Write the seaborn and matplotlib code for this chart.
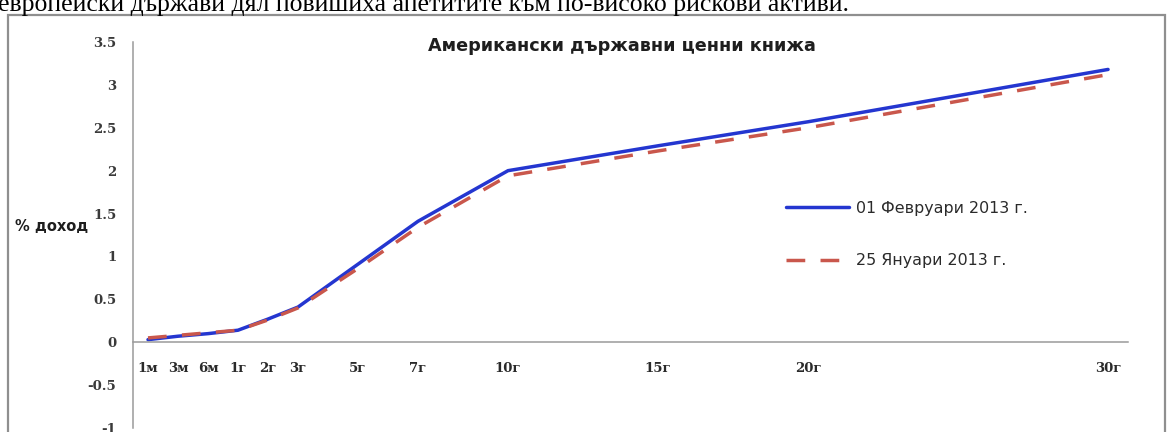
import numpy as np
import pandas as pd
import matplotlib
matplotlib.use("Agg")
import matplotlib.pyplot as plt
import seaborn as sns
from matplotlib.patches import Rectangle
from matplotlib.ticker import MultipleLocator

# Treasury yield curve, % yield by maturity
tenors = ["1м", "3м", "6м", "1г", "2г", "3г", "5г", "7г", "10г", "15г", "20г", "30г"]
tenor_slots = [0, 2, 4, 6, 8, 10, 14, 18, 24, 34, 44, 64]
feb01 = [0.03, 0.07, 0.10, 0.14, 0.27, 0.41, 0.91, 1.41, 2.00, 2.29, 2.57, 3.18]
jan25 = [0.05, 0.08, 0.11, 0.14, 0.26, 0.40, 0.86, 1.34, 1.94, 2.23, 2.50, 3.12]
series_names = ["01 Февруари 2013 г.", "25 Януари 2013 г."]
y_ticks = [-1, -0.5, 0, 0.5, 1, 1.5, 2, 2.5, 3, 3.5]
y_tick_labels = ["-1", "-0.5", "0", "0.5", "1", "1.5", "2", "2.5", "3", "3.5"]

df = pd.DataFrame({
    "slot": tenor_slots * 2,
    "yield": feb01 + jan25,
    "date": [series_names[0]] * len(feb01) + [series_names[1]] * len(jan25),
})

sns.set_style("white")
plt.rcParams["font.family"] = ["DejaVu Sans"]

W, H = 1173, 432
fig = plt.figure(figsize=(W / 100, H / 100), dpi=100)
fig.patch.set_facecolor("white")

# running text of the page above the chart
fig.text(-0.002, 1 - 10.5 / H,
         "европейски държави дял повишиха апетитите към по-високо рискови активи.",
         family="Liberation Serif", fontsize=18.5, color="black",
         ha="left", va="baseline")

# chart frame
fig.patches.append(Rectangle((8 / W, -0.2), (1165 - 8) / W, 1.2 - 15 / H,
                             transform=fig.transFigure, fill=False,
                             edgecolor="#8f8f8f", linewidth=1.6, zorder=0))

ax = fig.add_axes([133 / W, 1 - 428 / H, (1128 - 133) / W, (428 - 42) / H])
ax.set_facecolor("none")

palette = {series_names[0]: "#2436d0", series_names[1]: "#c9574c"}
dashes = {series_names[0]: "", series_names[1]: (5.4, 4.4)}
sns.lineplot(data=df, x="slot", y="yield", hue="date", style="date",
             hue_order=series_names, style_order=series_names,
             palette=palette, dashes=dashes, linewidth=2.5, sort=False, ax=ax)

ax.set_xlim(-1, 65.33)
ax.set_ylim(-1, 3.5)

axis_grey = "#9a9a9a"
for side in ("top", "right"):
    ax.spines[side].set_visible(False)
ax.spines["left"].set_color(axis_grey)
ax.spines["left"].set_linewidth(1.1)
ax.spines["bottom"].set_position(("data", 0))
ax.spines["bottom"].set_color(axis_grey)
ax.spines["bottom"].set_linewidth(1.1)

ax.set_yticks(y_ticks)
ax.set_yticklabels(y_tick_labels)
ax.tick_params(axis="y", direction="inout", length=11, width=0.8,
               color=axis_grey, pad=6.5, labelsize=9.5)
for lab in ax.get_yticklabels():
    lab.set_family("DejaVu Serif")
    lab.set_fontweight("bold")
    lab.set_color("#3a3a3a")

ax.set_xticks(tenor_slots)
ax.set_xticklabels(tenors)
ax.xaxis.set_minor_locator(MultipleLocator(1))
ax.tick_params(axis="x", which="both", direction="inout", length=4.5,
               width=0.7, color=axis_grey)
ax.tick_params(axis="x", which="major", pad=12, labelsize=9.5)
for lab in ax.get_xticklabels():
    lab.set_family("DejaVu Serif")
    lab.set_fontweight("bold")
    lab.set_color("#2a2a2a")

ax.set_xlabel("")
ax.set_ylabel("")

fig.text(622 / W, 1 - 46 / H, "Американски държавни ценни книжа",
         family="DejaVu Sans", fontweight="bold", fontsize=12.7,
         color="#1e1e1e", ha="center", va="center")
fig.text(15 / W, 1 - 227 / H, "% доход", family="DejaVu Sans",
         fontweight="bold", fontsize=10.5, color="#1e1e1e",
         ha="left", va="center")

handles, labels = ax.get_legend_handles_labels()
leg = ax.legend(handles, labels, loc="upper left",
                bbox_to_anchor=(786 / W, 1 - 201 / H),
                bbox_transform=fig.transFigure, frameon=False,
                borderpad=0, borderaxespad=0, handlelength=4.0,
                handletextpad=0.45, labelspacing=2.35,
                prop={"family": "DejaVu Sans", "size": 11.4})
for t in leg.get_texts():
    t.set_color("#2a2a2a")

fig.savefig("out.png", dpi=100, facecolor="white")
